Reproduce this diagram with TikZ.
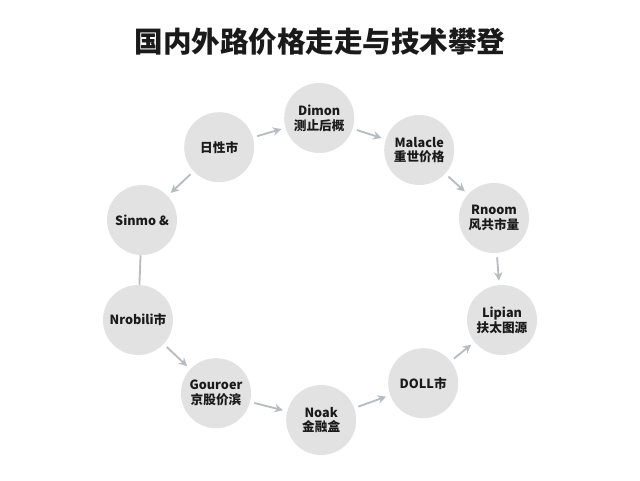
\documentclass[tikz,border=0pt]{standalone}
\usepackage{fontspec}
\setmainfont{Noto Sans CJK SC}
\usetikzlibrary{arrows.meta}
\definecolor{bubble}{HTML}{E2E2E2}
\definecolor{linkgray}{HTML}{B8BCC0}
\definecolor{ink}{HTML}{1A1A1A}

\begin{document}
\begin{tikzpicture}[x=1cm, y=1cm,
  stage/.style={circle, fill=bubble, minimum size=1.75cm, inner sep=0pt, align=center, text=ink, font=\bfseries\fontsize{9}{10.5}\selectfont},
  arrow/.style={-{Stealth[length=6pt, width=6pt]}, line width=1.3pt, color=linkgray, shorten >=3pt, shorten <=3pt},
  link/.style={line width=1.3pt, color=linkgray},
]
\useasboundingbox[fill=white] (0,0) rectangle (16,-12);

% Title
\node[font=\bfseries\fontsize{20.3}{22}\selectfont, text=ink] (title) at (8,-1.05) {国内外路价格走走与技术攀登};

% Stages round the loop
\node[stage] (market) at (5.48,-3.68) {日性市};
\node[stage] (dimon) at (7.98,-2.95) {Dimon\\测止后概};
\node[stage] (malacle) at (10.48,-3.75) {Malacle\\重世价格};
\node[stage] (rnoom) at (12.35,-5.45) {Rnoom\\风共市量};
\node[stage] (lipian) at (12.55,-8.0) {Lipian\\扶太图源};
\node[stage] (doll) at (10.58,-9.58) {DOLL市};
\node[stage] (noak) at (8.03,-10.5) {Noak\\金融盒};
\node[stage] (gouroer) at (5.4,-9.83) {Gouroer\\京股价滨};
\node[stage] (nrobili) at (3.45,-8.0) {Nrobili市};
\node[stage] (sinmo) at (3.55,-5.5) {Sinmo \&};

% Connectors
\draw[arrow] (market) -- (dimon);
\draw[arrow] (dimon) -- (malacle);
\draw[arrow] (malacle) -- (rnoom);
\draw[arrow] (rnoom) -- (lipian);
\draw[arrow] (doll) -- (lipian);
\draw[arrow] (noak) -- (doll);
\draw[arrow] (gouroer) -- (noak);
\draw[arrow] (nrobili) -- (gouroer);
\draw[link] (sinmo) -- (nrobili);
\draw[arrow] (market) -- (sinmo);

\end{tikzpicture}
\end{document}
